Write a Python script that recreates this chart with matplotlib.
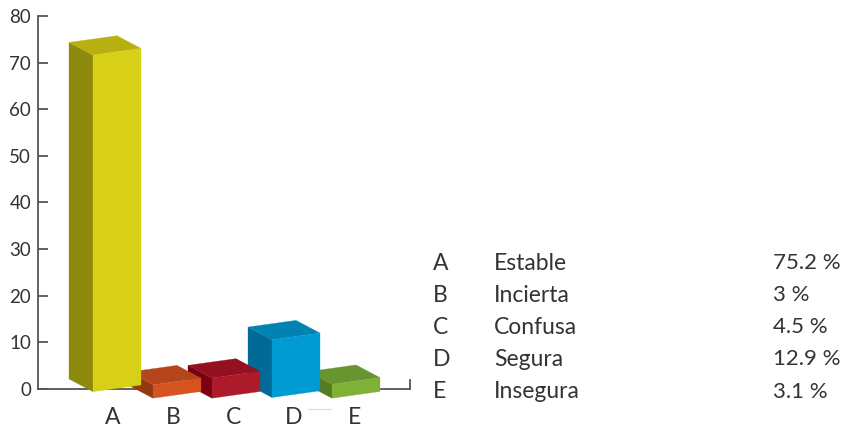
import matplotlib
matplotlib.use('Agg')
import matplotlib.pyplot as plt
from matplotlib.patches import Polygon

plt.rcParams['font.family'] = ['Lato', 'DejaVu Sans']

letters = ['A', 'B', 'C', 'D', 'E']
names = ['Estable', 'Incierta', 'Confusa', 'Segura', 'Insegura']
values = [75.2, 3, 4.5, 12.9, 3.1]
y_ticks = [0, 10, 20, 30, 40, 50, 60, 70, 80]

front_colors = ['#D8D016', '#D65322', '#AD1A2A', '#009BD3', '#7FB136']
side_colors = ['#8E8A0E', '#93380F', '#7A0012', '#026A96', '#567A22']
top_colors = ['#B8B010', '#B5451C', '#931020', '#0082B3', '#689530']

W, H = 844, 430
text_col = '#333333'
axis_col = '#555555'

fig = plt.figure(figsize=(W / 100, H / 100), dpi=100)
ax = fig.add_axes([37.5 / W, 1 - 389 / H, (410 - 37.5) / W, (389 - 16) / H])

# pixel sizes of the fake 3d box
px_x = 60.25
px_y = (389 - 16) / 80
x0 = 113
ax.set_xlim((37.5 - x0) / px_x, (410 - x0) / px_x)
ax.set_ylim(0, 80)

bar_left = [93, 153, 212, 272, 332]
bar_base = [391.7, 398.2, 398.2, 397.5, 398.2]
bar_w = 48
slant = 6.7
depth_x = 24
depth_y = 12.7
bar_scale = 0.96


def box(i, val):
    l = (bar_left[i] - x0) / px_x
    r = l + bar_w / px_x
    b = (389 - bar_base[i]) / px_y
    h = val * bar_scale
    dx = depth_x / px_x
    dy = depth_y / px_y
    s = slant / px_y
    front = [(l, b), (r, b + s), (r, b + s + h), (l, b + h)]
    side = [(l - dx, b + dy), (l, b), (l, b + h), (l - dx, b + dy + h)]
    top = [(l - dx, b + dy + h), (l, b + h), (r, b + s + h), (r - dx, b + s + dy + h)]
    return front, side, top


# right to left, each bar sits over the next one
for i in range(len(values) - 1, -1, -1):
    front, side, top = box(i, values[i])
    z = 5 + (len(values) - i)
    ax.add_patch(Polygon(side, fc=side_colors[i], ec=side_colors[i], lw=0.2, clip_on=False, zorder=z))
    ax.add_patch(Polygon(top, fc=top_colors[i], ec=top_colors[i], lw=0.2, clip_on=False, zorder=z))
    ax.add_patch(Polygon(front, fc=front_colors[i], ec=front_colors[i], lw=0.2, clip_on=False, zorder=z))

for s in ['top']:
    ax.spines[s].set_visible(False)
for s in ['left', 'bottom', 'right']:
    ax.spines[s].set_color(axis_col)
    ax.spines[s].set_linewidth(1.3)
ax.spines['right'].set_bounds(0, 9 / px_y)
ax.patch.set_alpha(0)

ax.set_yticks(y_ticks)
ax.tick_params(axis='y', direction='in', length=7.2, width=1.3, color=axis_col,
               labelcolor=text_col, labelsize=13.5, pad=4.5)
ax.set_xticks(range(len(letters)))
ax.set_xticklabels(letters)
ax.tick_params(axis='x', length=0, labelcolor=text_col, labelsize=16.5, pad=13)

# small stray mark under the D-E gap
fig.add_artist(plt.Line2D([308 / W, 331 / W], [1 - 409 / H, 1 - 409 / H], color='#e8d8d8', lw=0.8))

row_y = [263, 295, 327, 359, 392]
for i in range(len(letters)):
    y = 1 - row_y[i] / H
    fig.text(433 / W, y, letters[i], fontsize=16.5, color=text_col, va='center')
    fig.text(494 / W, y, names[i], fontsize=16.5, color=text_col, va='center')
    fig.text(773 / W, y, f'{values[i]:g} %', fontsize=16, color=text_col, va='center')

fig.savefig('out.png', dpi=100)
